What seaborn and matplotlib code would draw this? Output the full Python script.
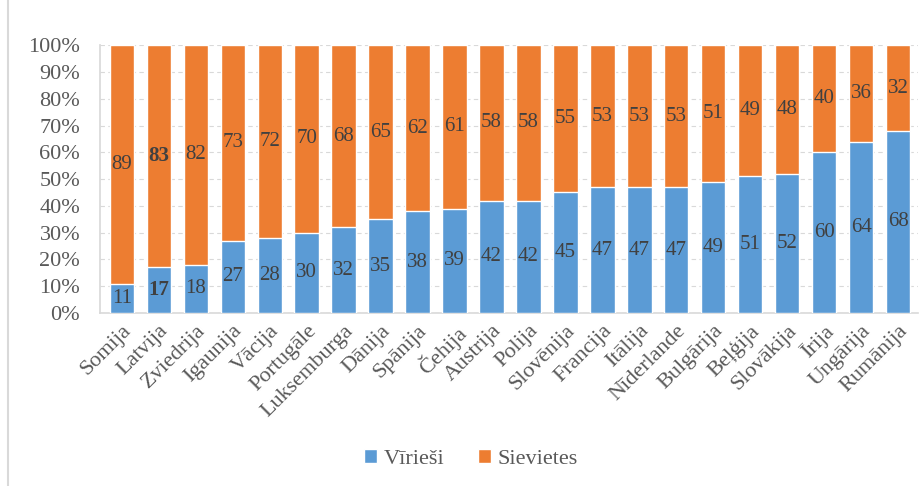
import numpy as np
import pandas as pd
import matplotlib
matplotlib.use("Agg")
import matplotlib.pyplot as plt
from matplotlib.lines import Line2D
from matplotlib.patches import Patch
import seaborn as sns

# ─── Data ─────────────────────────────────────────────────────────────────────
COUNTRIES = ["Somija", "Latvija", "Zviedrija", "Igaunija", "Vācija", "Portugāle",
             "Luksemburga", "Dānija", "Spānija", "Čehija", "Austrija", "Polija",
             "Slovēnija", "Francija", "Itālija", "Nīderlande", "Bulgārija", "Beļģija",
             "Slovākija", "Īrija", "Ungārija", "Rumānija"]
MEN   = [11, 17, 18, 27, 28, 30, 32, 35, 38, 39, 42, 42, 45, 47, 47, 47, 49, 51, 52, 60, 64, 68]
WOMEN = [89, 83, 82, 73, 72, 70, 68, 65, 62, 61, 58, 58, 55, 53, 53, 53, 51, 49, 48, 40, 36, 32]
Y_TICKS = [0, 10, 20, 30, 40, 50, 60, 70, 80, 90, 100]
BOLD_COUNTRY = "Latvija"

BLUE   = "#5B9BD5"
ORANGE = "#ED7D31"
TXT    = "#404040"
GREY   = "#595959"

df = pd.DataFrame({"country": COUNTRIES, "men": MEN, "women": WOMEN})
df["total"] = df["men"] + df["women"]

sns.set_theme(style="white")
plt.rcParams["font.family"] = ["Liberation Serif", "DejaVu Serif"]

fig = plt.figure(figsize=(9.23, 4.86), dpi=100)
ax = fig.add_axes([0.108, 0.356, 0.887, 0.551])

# orange on full stack, blue on top of it from zero
sns.barplot(data=df, x="country", y="total", color=ORANGE, width=0.66,
            saturation=1, ax=ax, zorder=2)
sns.barplot(data=df, x="country", y="men", color=BLUE, width=0.66,
            saturation=1, ax=ax, zorder=3)

for i, row in df.iterrows():
    w = "bold" if row["country"] == BOLD_COUNTRY else "normal"
    ax.text(i, row["men"] / 2, f"{row['men']}", ha="center", va="center",
            fontsize=15, color=TXT, fontweight=w, zorder=4)
    ax.text(i, row["men"] + row["women"] / 2, f"{row['women']}", ha="center",
            va="center", fontsize=15, color=TXT, fontweight=w, zorder=4)

ax.set_ylim(0, 100)
ax.set_xlim(-0.6, len(COUNTRIES) - 0.45)
ax.set_yticks(Y_TICKS)
ax.set_yticklabels([f"{t}%" for t in Y_TICKS], fontsize=16, color=GREY)
ax.set_xticks(range(len(COUNTRIES)))
ax.set_xticklabels(COUNTRIES, rotation=45, ha="right", rotation_mode="anchor",
                   fontsize=16, color=GREY)
ax.tick_params(axis="y", length=0, pad=14)
ax.tick_params(axis="x", length=0, pad=6)
ax.set_xlabel("")
ax.set_ylabel("")

ax.yaxis.grid(True, color="#D9D9D9", linestyle=(0, (4, 3)), linewidth=0.8, zorder=0)
ax.set_axisbelow(True)
for s in ["top", "right"]:
    ax.spines[s].set_visible(False)
ax.spines["left"].set_color("#D9D9D9")
ax.spines["bottom"].set_color("#D9D9D9")
ax.spines["bottom"].set_linewidth(1.2)

handles = [Patch(facecolor=BLUE, label="Vīrieši"), Patch(facecolor=ORANGE, label="Sievietes")]
fig.legend(handles=handles, loc="center", bbox_to_anchor=(0.51, 0.055), ncol=2,
           frameon=False, fontsize=16, handlelength=0.6, handleheight=0.6,
           handletextpad=0.3, columnspacing=1.5, labelcolor=GREY)

# chart frame line on the left
fig.add_artist(Line2D([0.009, 0.009], [0, 1], transform=fig.transFigure,
                      color="#D9D9D9", linewidth=1.5))

fig.savefig("out.png", dpi=100)
